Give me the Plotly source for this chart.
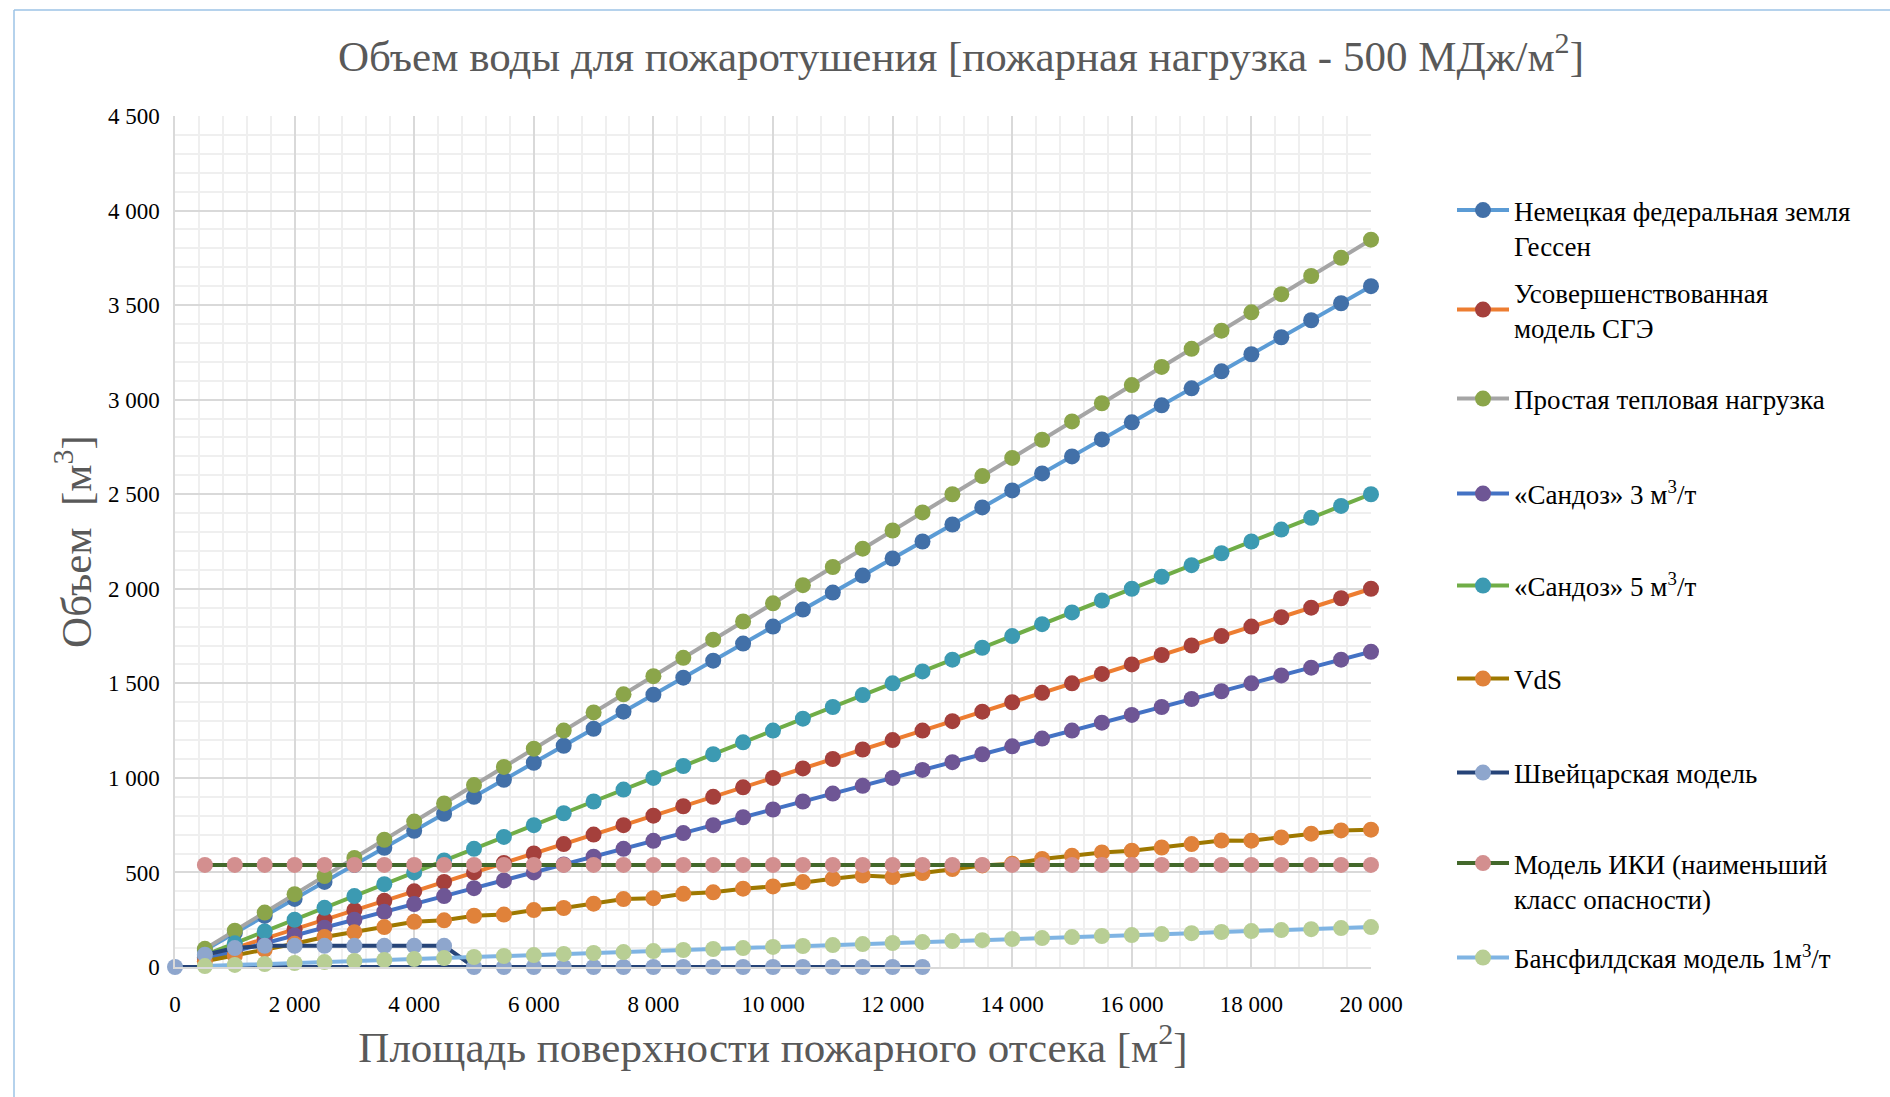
import plotly.graph_objects as go

# Fire compartment area, m2
area = [500, 1000, 1500, 2000, 2500, 3000, 3500, 4000, 4500, 5000,
        5500, 6000, 6500, 7000, 7500, 8000, 8500, 9000, 9500, 10000,
        10500, 11000, 11500, 12000, 12500, 13000, 13500, 14000, 14500, 15000,
        15500, 16000, 16500, 17000, 17500, 18000, 18500, 19000, 19500, 20000]

hessen = [90, 180, 270, 360, 450, 540, 630, 720, 810, 900,
          990, 1080, 1170, 1260, 1350, 1440, 1530, 1620, 1710, 1800,
          1890, 1980, 2070, 2160, 2250, 2340, 2430, 2520, 2610, 2700,
          2790, 2880, 2970, 3060, 3150, 3240, 3330, 3420, 3510, 3600]

sge = [50, 100, 150, 200, 250, 300, 350, 400, 450, 500,
       550, 600, 650, 700, 750, 800, 850, 900, 950, 1000,
       1050, 1100, 1150, 1200, 1250, 1300, 1350, 1400, 1450, 1500,
       1550, 1600, 1650, 1700, 1750, 1800, 1850, 1900, 1950, 2000]

simple_load = [96, 192, 288, 385, 481, 577, 673, 769, 865, 962,
               1058, 1154, 1250, 1346, 1442, 1538, 1635, 1731, 1827, 1923,
               2019, 2115, 2212, 2308, 2404, 2500, 2596, 2692, 2788, 2885,
               2981, 3077, 3173, 3269, 3365, 3462, 3558, 3654, 3750, 3846]

sandoz3 = [42, 83, 125, 167, 208, 250, 292, 333, 375, 417,
           458, 500, 542, 583, 625, 667, 708, 750, 792, 833,
           875, 917, 958, 1000, 1042, 1083, 1125, 1167, 1208, 1250,
           1292, 1333, 1375, 1417, 1458, 1500, 1542, 1583, 1625, 1667]

sandoz5 = [63, 125, 188, 250, 313, 375, 438, 500, 563, 625,
           688, 750, 813, 875, 938, 1000, 1063, 1125, 1188, 1250,
           1313, 1375, 1438, 1500, 1563, 1625, 1688, 1750, 1813, 1875,
           1938, 2000, 2063, 2125, 2188, 2250, 2313, 2375, 2438, 2500]

vds = [30, 60, 92, 123, 159, 184, 211, 239, 247, 271,
       277, 301, 312, 335, 359, 364, 387, 395, 414, 426,
       449, 467, 484, 476, 497, 518, 537, 546, 571, 588,
       606, 615, 632, 650, 669, 668, 685, 705, 722, 726]

swiss_area = [500, 1000, 1500, 2000, 2500, 3000, 3500, 4000, 4500, 5000,
              5500, 6000, 6500, 7000, 7500, 8000, 8500, 9000, 9500, 10000,
              10500, 11000, 11500, 12000, 12500, 0]
swiss = [65, 100, 112, 112, 112, 112, 112, 112, 112, 0,
         0, 0, 0, 0, 0, 0, 0, 0, 0, 0,
         0, 0, 0, 0, 0, 0]

iki = [540] * 40

bunsfield = [5, 11, 16, 21, 26, 32, 37, 42, 47, 53,
             58, 63, 69, 74, 79, 84, 90, 95, 100, 106,
             111, 116, 121, 127, 132, 137, 142, 148, 153, 158,
             164, 169, 174, 179, 185, 190, 195, 200, 206, 211]

series = [
    ("Немецкая федеральная земля<br>Гессен", area, hessen, "#5B9BD5", "#4270A8"),
    ("Усовершенствованная<br>модель СГЭ", area, sge, "#ED7D31", "#A5403C"),
    ("Простая тепловая нагрузка", area, simple_load, "#A5A5A5", "#8BA54A"),
    ("«Сандоз» 3 м<sup>3</sup>/т", area, sandoz3, "#4472C4", "#6E5695"),
    ("«Сандоз» 5 м<sup>3</sup>/т", area, sandoz5, "#70AD47", "#3C9AB2"),
    ("VdS", area, vds, "#9E7800", "#E0823A"),
    ("Швейцарская модель", swiss_area, swiss, "#264478", "#8EA6CD"),
    ("Модель ИКИ (наименьший<br>класс опасности)", area, iki, "#43682B", "#D38F8F"),
    ("Бансфилдская модель 1м<sup>3</sup>/т", area, bunsfield, "#7FB4E3", "#B8CE94"),
]

# plot area in pixels
W, H = 1890, 1097
L, R, T, B = 175, 1371, 116, 967


def px_x(p):
    return (p - L) / (R - L)


def px_y(p):
    return (B - p) / (B - T)


# legend slot per series: (vertical centre in px, symbol alignment)
legend_slots = [(228, "top"), (310, "middle"), (399, "middle"), (494, "middle"),
                (586, "middle"), (679, "middle"), (773, "middle"), (881, "top"),
                (958, "middle")]

fig = go.Figure()
serif = "Liberation Serif, Times New Roman, serif"
layout_legends = {}
for i, (name, xs, ys, lc, mc) in enumerate(series):
    key = "legend" if i == 0 else f"legend{i + 1}"
    fig.add_trace(go.Scatter(
        x=xs, y=ys, name=name, mode="lines+markers",
        line=dict(color=lc, width=4),
        marker=dict(color=mc, size=16, line=dict(width=0)),
        cliponaxis=False,
        legend=key,
    ))
    yc, va = legend_slots[i]
    layout_legends[key] = dict(
        x=px_x(1452), y=px_y(yc), xanchor="left", yanchor="middle",
        valign=va, bgcolor="rgba(0,0,0,0)", itemwidth=52,
        font=dict(family=serif, size=27, color="#000000"),
    )

fig.update_layout(
    width=W, height=H,
    margin=dict(l=L, r=W - R, t=T, b=H - B, autoexpand=False),
    paper_bgcolor="white", plot_bgcolor="white",
    separators=". ",
    title=dict(
        text="Объем воды для пожаротушения [пожарная нагрузка - 500 МДж/м<sup>2</sup>]",
        x=961 / W, xref="container", xanchor="center",
        y=1 - 56 / H, yref="container", yanchor="middle",
        font=dict(family=serif, size=43, color="#595959"),
    ),
    showlegend=True,
    **layout_legends,
)

fig.update_xaxes(
    range=[0, 20000], dtick=2000, tickformat=",d",
    showgrid=True, gridcolor="#D9D9D9", gridwidth=1.5,
    minor=dict(dtick=400, showgrid=True, gridcolor="#EFEFEF", gridwidth=1.5),
    showline=True, linecolor="#D9D9D9", linewidth=1.5, mirror=False,
    zeroline=False, ticks="", ticklabelstandoff=16,
    tickfont=dict(family=serif, size=23, color="#000000"),
    title=dict(text="Площадь поверхности пожарного отсека [м<sup>2</sup>]",
               font=dict(family=serif, size=43, color="#595959"), standoff=5),
)
fig.update_yaxes(
    range=[0, 4500], dtick=500, tickformat=",d",
    showgrid=True, gridcolor="#D9D9D9", gridwidth=1.5,
    minor=dict(dtick=100, showgrid=True, gridcolor="#EFEFEF", gridwidth=1.5),
    showline=True, linecolor="#D9D9D9", linewidth=1.5,
    zeroline=False, ticks="", ticklabelstandoff=9,
    tickfont=dict(family=serif, size=23, color="#000000"),
    title=dict(text="Объем  [м<sup>3</sup>]",
               font=dict(family=serif, size=43, color="#595959"), standoff=3),
)

# thin frame around the chart area
frame = dict(type="line", xref="paper", yref="paper",
             line=dict(color="#9DC3E6", width=1.5), layer="above")
fig.add_shape(**frame, x0=px_x(14), x1=px_x(14), y0=px_y(10), y1=px_y(H))
fig.add_shape(**frame, x0=px_x(14), x1=px_x(W), y0=px_y(10), y1=px_y(10))

fig.write_html("out.html")
